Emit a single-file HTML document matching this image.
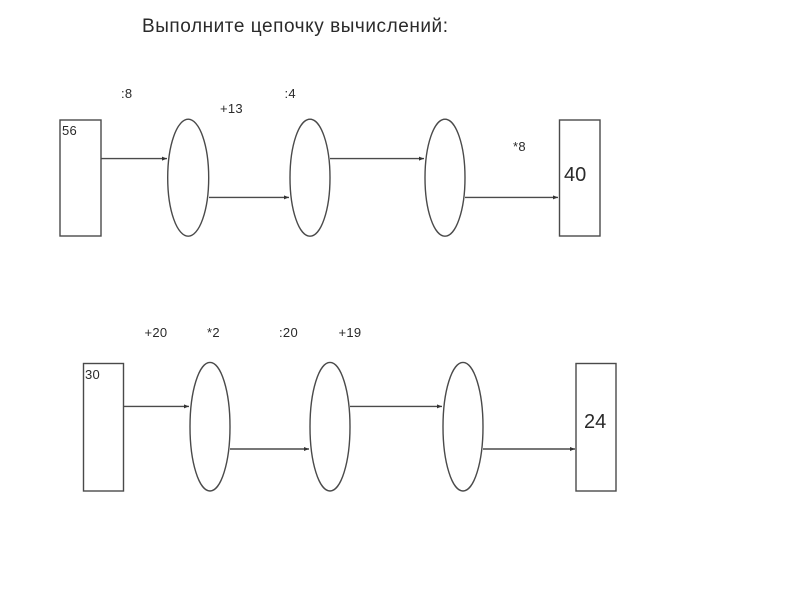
<!DOCTYPE html>
<html><head><meta charset="utf-8">
<style>html,body{margin:0;padding:0;background:#fff}svg{display:block;filter:blur(0.35px)}text{font-family:"Liberation Sans",sans-serif;fill:#2a2a2a}</style>
</head><body>
<svg width="800" height="600" viewBox="0 0 800 600" xmlns="http://www.w3.org/2000/svg">
<defs><marker id="a" markerWidth="6" markerHeight="5" refX="5" refY="2" orient="auto" markerUnits="userSpaceOnUse"><path d="M0,0 L5,2 L0,4 Z" fill="#333"/></marker></defs>
<text x="142" y="32" font-size="19" letter-spacing="0.55">Выполните цепочку вычислений:</text>
<g fill="#fff" stroke="#4a4a4a" stroke-width="1.4">
<rect x="60" y="120" width="41" height="116"/>
<rect x="559.500" y="120" width="40.500" height="116"/>
<ellipse cx="188.200" cy="177.700" rx="20.500" ry="58.500"/>
<ellipse cx="310" cy="177.700" rx="20" ry="58.500"/>
<ellipse cx="445" cy="177.700" rx="20" ry="58.500"/>
<rect x="83.500" y="363.500" width="40" height="127.500"/>
<rect x="576" y="363.500" width="40" height="127.500"/>
<ellipse cx="210" cy="426.700" rx="20" ry="64.300"/>
<ellipse cx="330" cy="426.700" rx="20" ry="64.300"/>
<ellipse cx="463" cy="426.700" rx="20" ry="64.300"/>
</g>
<g stroke="#4a4a4a" stroke-width="1.4" fill="none">
<line x1="101" y1="158.600" x2="167" y2="158.600" marker-end="url(#a)"/>
<line x1="209" y1="197.400" x2="289" y2="197.400" marker-end="url(#a)"/>
<line x1="330" y1="158.600" x2="424" y2="158.600" marker-end="url(#a)"/>
<line x1="465" y1="197.400" x2="558" y2="197.400" marker-end="url(#a)"/>
<line x1="124" y1="406.400" x2="189" y2="406.400" marker-end="url(#a)"/>
<line x1="230" y1="449" x2="309" y2="449" marker-end="url(#a)"/>
<line x1="350" y1="406.400" x2="442" y2="406.400" marker-end="url(#a)"/>
<line x1="483" y1="449" x2="575" y2="449" marker-end="url(#a)"/>
</g>
<g font-size="13" letter-spacing="0.3">
<text x="121" y="98">:8</text>
<text x="220" y="113">+13</text>
<text x="284.500" y="98">:4</text>
<text x="513" y="151">*8</text>
<text x="62" y="135">56</text>
<text x="144.500" y="337">+20</text>
<text x="207" y="337">*2</text>
<text x="279" y="337">:20</text>
<text x="338.500" y="337">+19</text>
<text x="85" y="379">30</text>
</g>
<text x="564" y="181" font-size="20">40</text>
<text x="584" y="428" font-size="20">24</text>
</svg>
</body></html>
